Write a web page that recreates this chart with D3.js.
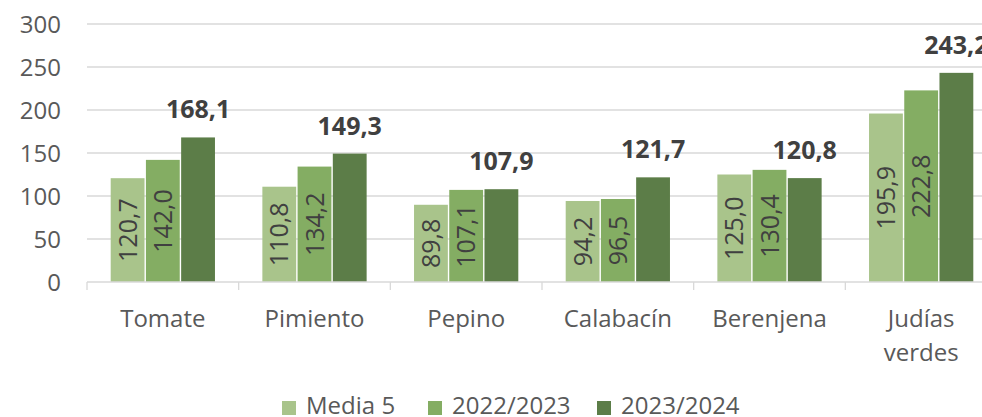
<!DOCTYPE html>
<html>
<head>
<meta charset="utf-8">
<script src="https://d3js.org/d3.v7.min.js"></script>
<style>
body { margin: 0; background: #fff; }
text { font-family: "Open Sans", sans-serif; }
</style>
</head>
<body>
<svg id="chart" width="982" height="417"></svg>
<script>
// data
var categories = ["Tomate", "Pimiento", "Pepino", "Calabacín", "Berenjena", "Judías verdes"]
var series = ["Media 5", "2022/2023", "2023/2024"]
var media5 = [120.7, 110.8, 89.8, 94.2, 125.0, 195.9]
var y2223 = [142.0, 134.2, 107.1, 96.5, 130.4, 222.8]
var y2324 = [168.1, 149.3, 107.9, 121.7, 120.8, 243.2]
var yTicks = [0, 50, 100, 150, 200, 250, 300]
var colors = ["#a9c48b", "#84ad63", "#5c7d48"]

var values = [media5, y2223, y2324]
var svg = d3.select("#chart")
var fmt = function(v) { return d3.format(".1f")(v).replace(".", ",") }

var x0 = d3.scaleBand().domain(categories).range([87, 997])
var y = d3.scaleLinear().domain([0, 300]).range([282, 24])
var groupPad = 23
var step = (x0.bandwidth() - 2 * groupPad) / 3
var x1 = d3.scaleBand().domain(series).range([groupPad, groupPad + 3 * step])

// gridlines
svg.append("g").selectAll("line").data(yTicks.slice(1)).join("line")
    .attr("x1", 87).attr("x2", 982)
    .attr("y1", d => y(d)).attr("y2", d => y(d))
    .style("stroke", "#d9d9d9").style("stroke-width", 1.3)

// y axis labels
svg.append("g").selectAll("text").data(yTicks).join("text")
    .attr("x", 61).attr("y", d => y(d))
    .attr("dy", "0.36em")
    .attr("text-anchor", "end")
    .style("font-size", "24px").style("fill", "#595959")
    .text(d => d)

// bars
series.forEach(function(s, si) {
    svg.append("g").selectAll("rect").data(categories).join("rect")
        .attr("x", d => x0(d) + x1(s) + 0.7)
        .attr("width", step - 1.4)
        .attr("y", (d, i) => y(values[si][i]))
        .attr("height", (d, i) => y(0) - y(values[si][i]))
        .style("fill", colors[si])
})

// rotated labels inside bars for first two series
for (let si = 0; si < 2; si++) {
    svg.append("g").selectAll("text").data(categories).join("text")
        .attr("transform", function(d, i) {
            var cx = x0(d) + x1(series[si]) + step / 2
            var cy = (y(values[si][i]) + y(0)) / 2
            return "translate(" + cx + "," + cy + ") rotate(-90)"
        })
        .attr("text-anchor", "middle")
        .attr("dy", "0.36em")
        .style("font-size", "25px").style("fill", "#404040")
        .text((d, i) => fmt(values[si][i]))
}

// bold labels above third series
svg.append("g").selectAll("text").data(categories).join("text")
    .attr("x", d => x0(d) + x1(series[2]) + step / 2)
    .attr("y", (d, i) => y(values[2][i]) - 19)
    .attr("text-anchor", "middle")
    .style("font-size", "25px").style("font-weight", "bold").style("fill", "#404040")
    .text((d, i) => fmt(values[2][i]))

// x axis
svg.append("line")
    .attr("x1", 87).attr("x2", 982).attr("y1", y(0)).attr("y2", y(0))
    .style("stroke", "#d9d9d9").style("stroke-width", 1.3)
svg.append("g").selectAll("line").data(categories).join("line")
    .attr("x1", d => x0(d)).attr("x2", d => x0(d))
    .attr("y1", y(0)).attr("y2", y(0) + 8)
    .style("stroke", "#d9d9d9").style("stroke-width", 1.3)

var catLabels = svg.append("g").selectAll("text").data(categories).join("text")
    .attr("x", d => x0(d) + x0.bandwidth() / 2)
    .attr("y", 327)
    .attr("text-anchor", "middle")
    .style("font-size", "24px").style("fill", "#595959")
catLabels.each(function(d) {
    var words = d === "Judías verdes" ? ["Judías", "verdes"] : [d]
    var t = d3.select(this)
    words.forEach(function(w, wi) {
        t.append("tspan")
            .attr("x", x0(d) + x0.bandwidth() / 2)
            .attr("dy", wi === 0 ? 0 : 34)
            .text(w)
    })
})

// legend
var legendX = [282, 428, 597]
var legend = svg.append("g").selectAll("g").data(series).join("g")
    .attr("transform", (d, i) => "translate(" + legendX[i] + ",400)")
legend.append("rect")
    .attr("y", 1)
    .attr("width", 14).attr("height", 14)
    .style("fill", (d, i) => colors[i])
legend.append("text")
    .attr("x", 24).attr("y", 14)
    .style("font-size", "24px").style("fill", "#595959")
    .text(d => d)
</script>
</body>
</html>
